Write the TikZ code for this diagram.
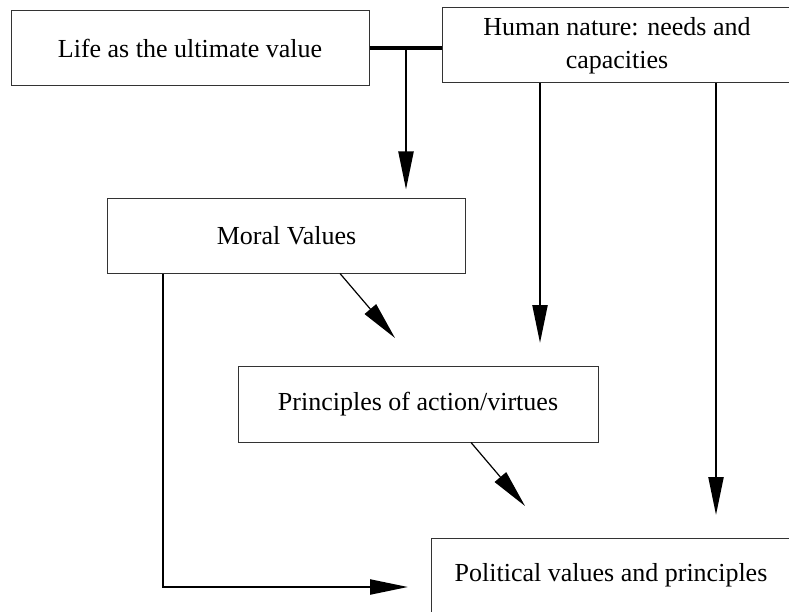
\documentclass[tikz,border=0pt]{standalone}
\usepackage{fontspec}
\setmainfont{Liberation Serif}
\usetikzlibrary{arrows.meta}
\begin{document}
\begin{tikzpicture}[x=1pt, y=-1pt,
    box/.style={draw=black!80, line width=1pt, minimum width=358pt, minimum height=75pt,
      inner sep=0pt, align=center, font=\fontsize{26}{33}\selectfont},
    arr/.style={line width=2.2pt, -{Triangle[length=38pt, width=15pt]}},
    thinarr/.style={line width=1.2pt, -{Triangle[length=38pt, width=15pt]}}]
    \useasboundingbox (0, 0) rectangle (789, 612);

    % boxes
    \node[box] (life) at (190, 48.5) {Life as the ultimate value};
    \node[box, minimum width=350pt] (human) at (617, 45.5) {Human nature: needs and\\capacities};
    \node[box, minimum height=74pt] (moral) at (286.5, 236) {Moral Values};
    \node[box, minimum width=360pt, minimum height=76pt] (princ) at (418, 404) {Principles of action/virtues};
    \node[box, minimum width=360pt] (polit) at (611, 575.5) {Political values and principles};

    % 矢印の先
    \coordinate (j) at (406, 48);
    \coordinate (t1) at (540, 343);
    \coordinate (t2) at (716, 515);
    \coordinate (t3) at (395, 338);
    \coordinate (t4) at (525, 506);
    \coordinate (t5) at (408, 587);

    % 線を引く
    \draw[line width=3.3pt] (life.east |- j) -- (human.west |- j);
    \draw[arr] (j) -- ([yshift=9pt]moral.north -| j);
    \draw[arr] (human.south -| t1) -- (t1);
    \draw[arr] (human.south -| t2) -- (t2);
    \draw[thinarr] ([xshift=53.5pt]moral.south) -- (t3);
    \draw[thinarr] ([xshift=53pt]princ.south) -- (t4);
    \draw[arr] ([xshift=-123.5pt]moral.south) |- (t5);

\end{tikzpicture}
\end{document}
